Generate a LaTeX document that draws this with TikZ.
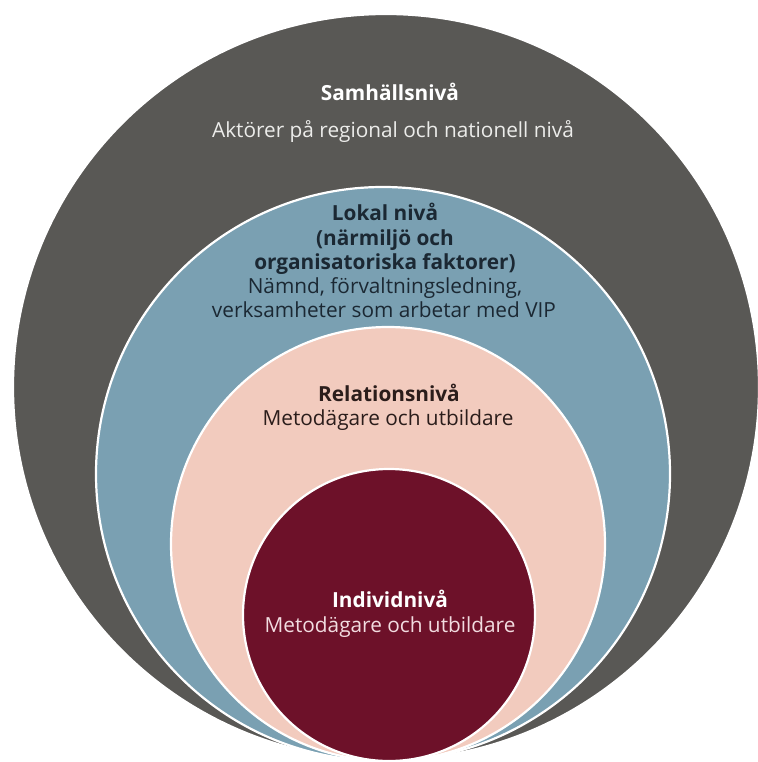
\documentclass[tikz,border=0pt]{standalone}
\usepackage{fontspec}
\setmainfont{Open Sans}
\definecolor{cgray}{HTML}{595855}
\definecolor{cblue}{HTML}{7AA0B2}
\definecolor{cpink}{HTML}{F2CBBE}
\definecolor{cred}{HTML}{6D1129}
\definecolor{cdark}{HTML}{1B2833}
\definecolor{cdarkr}{HTML}{2B1D1B}
\definecolor{clight}{HTML}{ECECEA}
\definecolor{clpink}{HTML}{F2DCE0}
\begin{document}
\begin{tikzpicture}[x=1pt,y=-1pt]
\tikzset{
  ring/.style={draw=white, line width=2.2pt},
  txt/.style={anchor=base, inner sep=0pt, font=\fontsize{20.8}{24.4}\selectfont},
  hd/.style={txt, font=\fontsize{20.8}{24.4}\selectfont\bfseries}
}
\useasboundingbox (0,0) rectangle (757,762);
\fill[white] (0,0) rectangle (757,762);
\filldraw[ring, fill=cgray] (386,387) circle[radius=373pt];
\filldraw[ring, fill=cblue] (383,474) circle[radius=287pt];
\filldraw[ring, fill=cpink] (388,544) circle[radius=217pt];
\filldraw[ring, fill=cred] (389,615) circle[radius=146pt];

\node[hd, text=white] (s1) at (390,101) {Samhällsnivå};
\node[txt, text=clight] (s2) at (393,138) {Aktörer på regional och nationell nivå};

\node[hd, text=cdark] (l1) at (385,220) {Lokal nivå};
\node[hd, text=cdark] (l2) at (385,245) {(närmiljö och};
\node[hd, text=cdark] (l3) at (385,269) {organisatoriska faktorer)};
\node[txt, text=cdark] (l4) at (385,293) {Nämnd, förvaltningsledning,};
\node[txt, text=cdark] (l5) at (384,317) {verksamheter som arbetar med VIP};

\node[hd, text=cdarkr] (r1) at (389,401) {Relationsnivå};
\node[txt, text=cdarkr] (r2) at (388,425) {Metodägare och utbildare};

\node[hd, text=white] (i1) at (390,607) {Individnivå};
\node[txt, text=clpink] (i2) at (390,632) {Metodägare och utbildare};
\end{tikzpicture}
\end{document}
